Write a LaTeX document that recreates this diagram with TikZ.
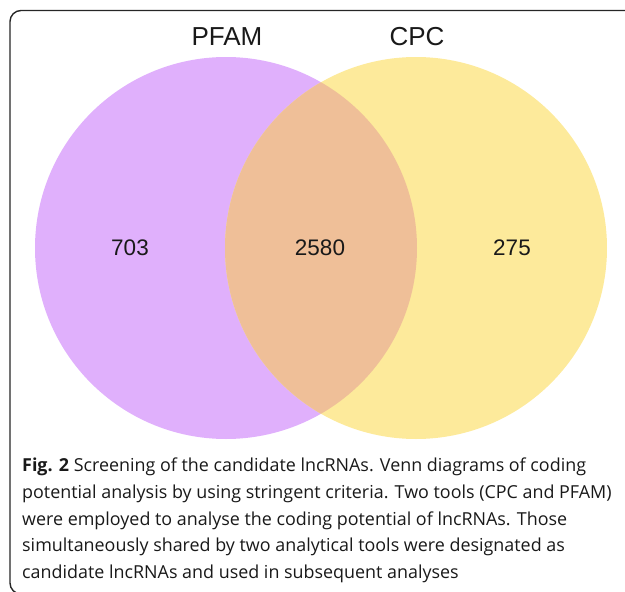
\documentclass[tikz,border=0pt]{standalone}
\usepackage{fontspec}
\setmainfont{Liberation Sans}
\newfontfamily\capfont{Open Sans}
\definecolor{pfamc}{RGB}{224,176,252}
\definecolor{cpcc}{RGB}{253,234,155}
\definecolor{ovlc}{RGB}{239,191,152}
\definecolor{txtc}{RGB}{25,25,25}
\tikzset{
  setlbl/.style={font=\fontsize{26}{30}\selectfont, text=txtc, inner sep=0pt},
  numlbl/.style={font=\fontsize{22.5}{26}\selectfont, text=txtc, inner sep=0pt},
  capline/.style={font=\capfont\fontsize{17.9}{22}\selectfont, text=txtc, inner sep=0pt, anchor=base west},
  frame/.style={draw=black!85, line width=1.4pt, rounded corners=11pt}
}
\begin{document}
\begin{tikzpicture}[x=1pt,y=-1pt]
\useasboundingbox (0,0) rectangle (625,592);
\draw[frame] (660,10.5) -- (10,10.5) -- (10,594) -- (660,594);
\fill[pfamc] (226,248) circle[radius=191pt];
\fill[cpcc] (416,248) circle[radius=191pt];
\begin{scope}
  \clip (226,248) circle[radius=191pt];
  \fill[ovlc] (416,248) circle[radius=191pt];
\end{scope}
\node[setlbl] (pfam) at (227,37) {PFAM};
\node[setlbl] (cpc) at (417,37) {CPC};
\node[numlbl] (n1) at (130,248) {703};
\node[numlbl] (n2) at (320,248) {2580};
\node[numlbl] (n3) at (512,248) {275};
\node[capline] (c1) at (22,471.7) {{\bfseries Fig. 2} Screening of the candidate lncRNAs. Venn diagrams of coding};
\node[capline] (c2) at (22,498.3) {potential analysis by using stringent criteria. Two tools (CPC and PFAM)};
\node[capline] (c3) at (22,525) {were employed to analyse the coding potential of lncRNAs. Those};
\node[capline] (c4) at (22,551.7) {simultaneously shared by two analytical tools were designated as};
\node[capline] (c5) at (22,578.3) {candidate lncRNAs and used in subsequent analyses};
\end{tikzpicture}
\end{document}
